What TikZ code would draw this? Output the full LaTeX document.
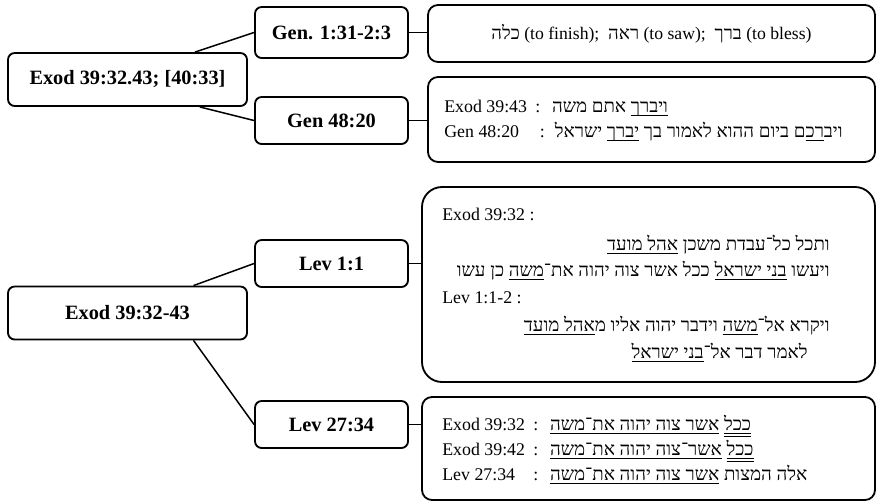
\documentclass[tikz,border=0pt]{standalone}
\usepackage{fontspec}
\setmainfont{Liberation Serif}
\newfontfamily\heb[Script=Hebrew, Scale=1.05]{Liberation Serif}
\TeXXeTstate=1
\usetikzlibrary{calc}
\newcommand\hul[1]{\setbox0\hbox{\beginR#1\endR}\hbox to\wd0{\copy0\hskip-\wd0\rule[-2.3pt]{\wd0}{0.5pt}}}
\newcommand\hdul[1]{\setbox0\hbox{\beginR#1\endR}\hbox to\wd0{\copy0\hskip-\wd0\rule[-2.3pt]{\wd0}{0.5pt}\hskip-\wd0\rule[-3.8pt]{\wd0}{0.5pt}}}

\begin{document}
\begin{tikzpicture}[
  x=0.6pt, y=-0.6pt,
  refbox/.style={draw, line width=1.1pt, rounded corners=4pt, inner sep=0pt,
    font=\fontsize{12.2}{14}\selectfont\bfseries},
  small/.style={refbox, minimum width=91.8pt, minimum height=28.2pt},
  wide/.style={refbox, minimum width=143.4pt, minimum height=31.8pt},
  panel/.style={draw, line width=1.1pt, rounded corners=#1, inner sep=0pt,
    minimum width=268.2pt, font=\fontsize{10.6}{12}\selectfont},
  panel/.default=6pt,
  verse/.style={inner sep=0pt, font=\fontsize{10.7}{12}\selectfont},
  link/.style={line width=0.9pt}
]
\useasboundingbox (0,0) rectangle (877,502);
\node[wide] (exodA) at (127.5,79.5) {Exod 39:32.43; [40:33]};
\node[small, minimum height=30.6pt] (gen1) at (331.5,32.5) {Gen. 1:31-2:3};
\node[small] (gen48) at (331.5,120.5) {Gen 48:20};
\node[panel, minimum height=34.2pt] (gen1txt) at (651.5,33.5)
  {{\heb כלה} (to finish);\ \ {\heb ראה} (to saw);\ \ {\heb ברך} (to bless)\hspace{12pt}};
\node[panel, minimum height=51pt] (gen48txt) at (651.5,119.5) {};
\node[verse, anchor=base west] (g48a) at (444,112)
  {\makebox[52pt][l]{Exod 39:43} :\hspace{7pt}\heb\beginR\hul{ויברך} אתם משה\endR};
\node[verse, anchor=base west] (g48b) at (444,137)
  {\makebox[52pt][l]{Gen 48:20} \ :\hspace{6pt}\heb\beginR ויב\hul{רכ}ם ביום ההוא לאמור בך \hul{יברך} ישראל\endR};

\node[wide] (exodB) at (127.5,313) {Exod 39:32-43};
\node[small] (lev1) at (331.5,263.5) {Lev 1:1};
\node[small] (lev27) at (331.5,424.5) {Lev 27:34};
\node[panel=12pt, minimum width=271.8pt, minimum height=117pt] (lev1txt) at (648.5,284.5) {};
\node[panel, minimum width=271.8pt, minimum height=61.8pt] (lev27txt) at (648.5,448.5) {};

\node[verse, anchor=base west] (l1a) at (442,220) {Exod 39:32 :};
\node[verse, anchor=base east] (l1b) at (830,250)
  {\heb\beginR ותכל כל־עבדת משכן \hul{אהל מועד}\endR};
\node[verse, anchor=base east] (l1c) at (830,276)
  {\heb\beginR ויעשו \hul{בני ישראל} ככל אשר צוה יהוה את־\hul{משה} כן עשו\endR};
\node[verse, anchor=base west] (l1d) at (442,303) {Lev 1:1-2 :};
\node[verse, anchor=base east] (l1e) at (830,331)
  {\heb\beginR ויקרא אל־\hul{משה} וידבר יהוה אליו מ\hul{אהל מועד}\endR};
\node[verse, anchor=base east] (l1f) at (808,358)
  {\heb\beginR לאמר דבר אל־\hul{בני ישראל}\endR};

\node[verse, anchor=base west] (l27a) at (442,430)
  {\makebox[52pt][l]{Exod 39:32} :\hspace{7pt}\heb\beginR\hdul{ככל} \hul{אשר צוה יהוה את־משה}\endR};
\node[verse, anchor=base west] (l27b) at (442,455)
  {\makebox[52pt][l]{Exod 39:42} :\hspace{7pt}\heb\beginR\hdul{ככל} \hul{אשר־צוה יהוה את־משה}\endR};
\node[verse, anchor=base west] (l27c) at (442,480)
  {\makebox[52pt][l]{Lev 27:34} :\hspace{7pt}\heb\beginR אלה המצות \hul{אשר צוה יהוה את־משה}\endR};

\draw[link] ($(exodA.north west)!0.78!(exodA.north east)$) -- (gen1.west);
\draw[link] ($(exodA.south west)!0.8!(exodA.south east)$) -- (gen48.west);
\draw[link] (gen1.east) -- (gen1.east -| gen1txt.west);
\draw[link] (gen48.east) -- (gen48.east -| gen48txt.west);
\draw[link] ($(exodB.north west)!0.774!(exodB.north east)$) -- (lev1.west);
\draw[link] ($(exodB.south west)!0.774!(exodB.south east)$) -- (lev27.west);
\draw[link] (lev1.east) -- (lev1.east -| lev1txt.west);
\draw[link] (lev27.east) -- (lev27.east -| lev27txt.west);
\end{tikzpicture}
\end{document}
